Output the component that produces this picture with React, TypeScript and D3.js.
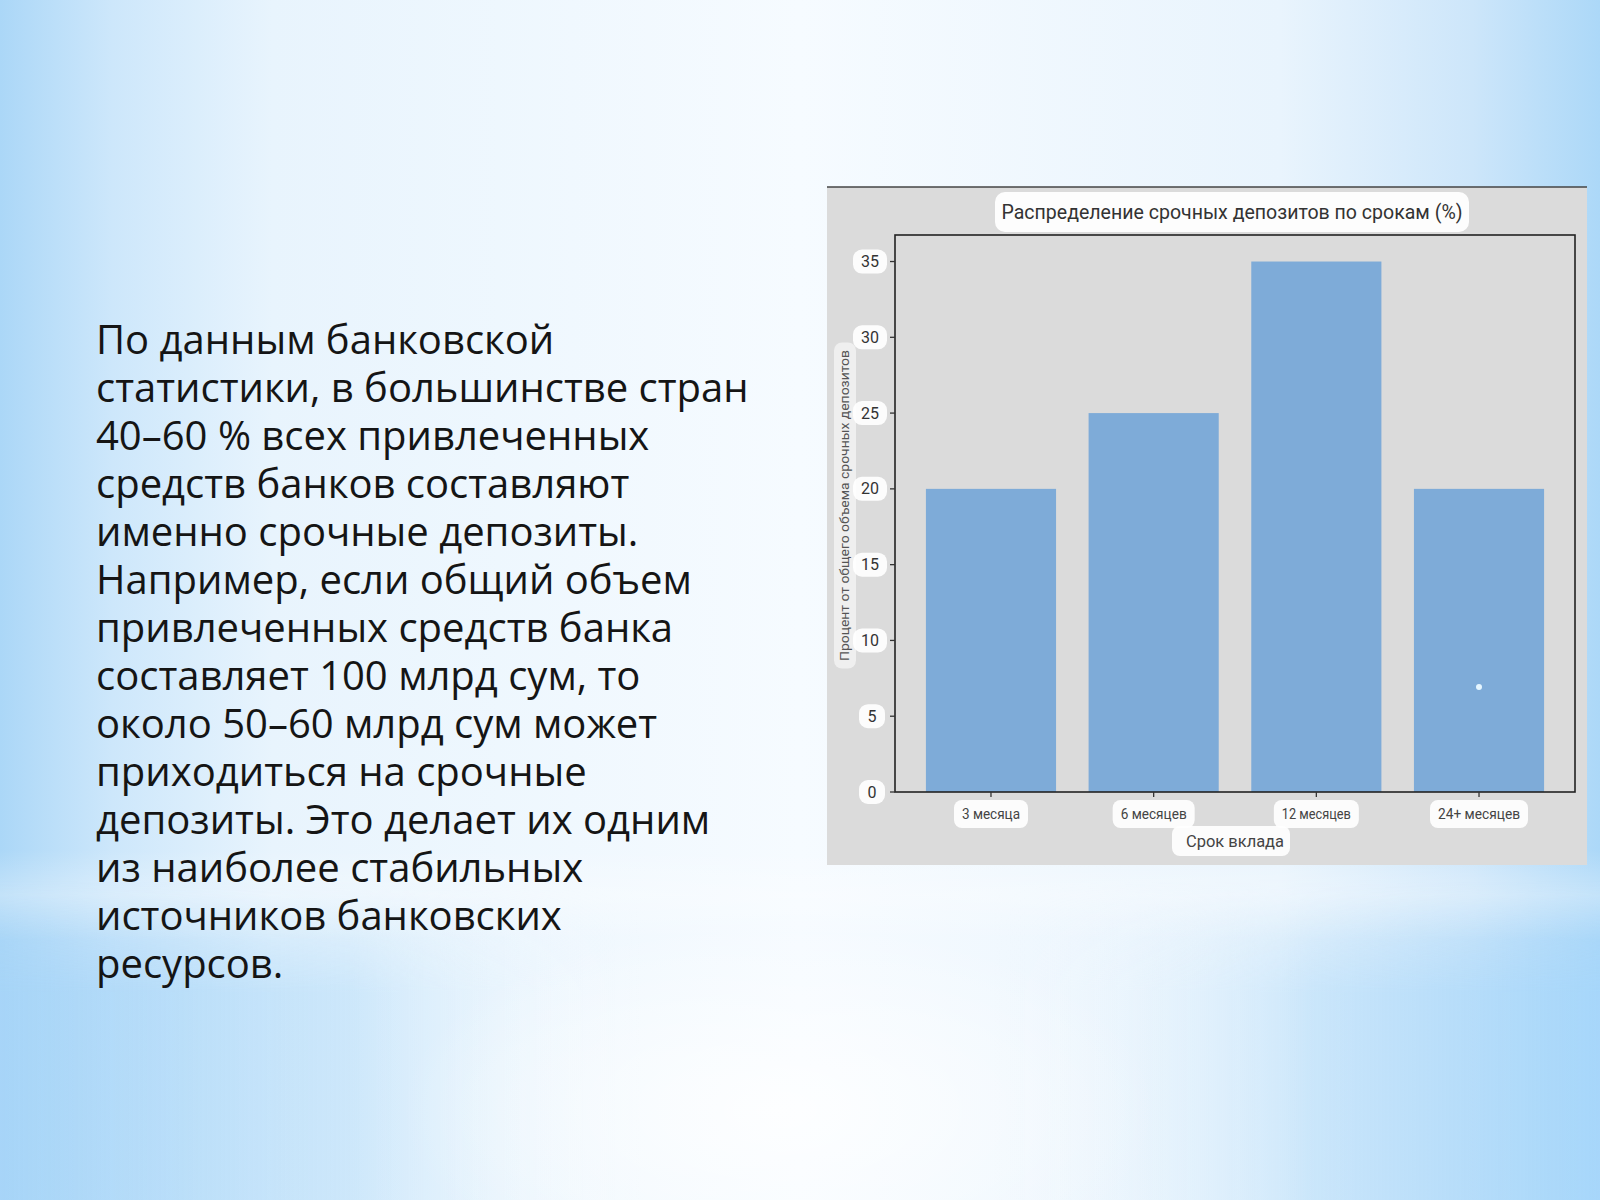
import { useEffect, useRef } from "react";
import * as d3 from "d3";

const WIDTH = 1600;
const HEIGHT = 1200;

// chart data
const categories = ["3 месяца", "6 месяцев", "12 месяцев", "24+ месяцев"];
const shares = [20, 25, 35, 20];
const yTicks = [0, 5, 10, 15, 20, 25, 30, 35];

const chartTitle = "Распределение срочных депозитов по срокам (%)";
const xAxisLabel = "Срок вклада";
const yAxisLabel = "Процент от общего объема срочных депозитов";

// left text block, one entry per line
const paragraphLines = [
  "По данным банковской",
  "статистики, в большинстве стран",
  "40–60 % всех привлеченных",
  "средств банков составляют",
  "именно срочные депозиты.",
  "Например, если общий объем",
  "привлеченных средств банка",
  "составляет 100 млрд сум, то",
  "около 50–60 млрд сум может",
  "приходиться на срочные",
  "депозиты. Это делает их одним",
  "из наиболее стабильных",
  "источников банковских",
  "ресурсов.",
];

// panel + plot area (in page pixels)
const PANEL = { x: 827, y: 187, w: 760, h: 678 };
const PLOT = { left: 895, top: 235, right: 1575, bottom: 792 };

const BAR_COLOR = "#7eabd8";
const LABEL_FONT = "Roboto, 'Noto Sans', sans-serif";

export default function App() {
  const axesRef = useRef<SVGGElement>(null);

  const xScale = d3
    .scaleBand<string>()
    .domain(categories)
    .range([PLOT.left, PLOT.right])
    .paddingInner(0.2)
    .paddingOuter(0.19);

  // matplotlib style 5% headroom above the top bar
  const yScale = d3
    .scaleLinear()
    .domain([0, d3.max(shares)! * 1.05])
    .range([PLOT.bottom, PLOT.top]);

  useEffect(() => {
    const g = d3.select(axesRef.current);
    g.selectAll("*").remove();

    // y ticks with white label pads
    const yAxis = g.append("g").attr("transform", `translate(${PLOT.left},0)`);
    const yTick = yAxis
      .selectAll("g.ytick")
      .data(yTicks)
      .enter()
      .append("g")
      .attr("class", "ytick")
      .attr("transform", (d) => `translate(0,${yScale(d)})`);
    yTick
      .append("line")
      .attr("x1", -5)
      .attr("x2", 0)
      .attr("stroke", "#333")
      .attr("stroke-width", 1.3);
    yTick
      .append("rect")
      .attr("x", (d) => (d >= 10 ? -42 : -36))
      .attr("y", -12)
      .attr("width", (d) => (d >= 10 ? 34 : 26))
      .attr("height", 24)
      .attr("rx", 9)
      .attr("fill", "#fff")
      .attr("opacity", 0.92);
    yTick
      .append("text")
      .attr("x", (d) => (d >= 10 ? -25 : -23))
      .attr("dy", "0.35em")
      .attr("text-anchor", "middle")
      .attr("font-family", LABEL_FONT)
      .attr("font-size", 16)
      .attr("fill", "#333")
      .text((d) => d);

    // x ticks
    const labelWidths = [58, 66, 69, 82];
    const xTick = g
      .append("g")
      .selectAll("g.xtick")
      .data(categories)
      .enter()
      .append("g")
      .attr("class", "xtick")
      .attr(
        "transform",
        (d) => `translate(${xScale(d)! + xScale.bandwidth() / 2},${PLOT.bottom})`
      );
    xTick
      .append("line")
      .attr("y1", 0)
      .attr("y2", 5)
      .attr("stroke", "#333")
      .attr("stroke-width", 1.3);
    xTick
      .append("rect")
      .attr("x", (_, i) => -labelWidths[i] / 2 - 8)
      .attr("y", 8)
      .attr("width", (_, i) => labelWidths[i] + 16)
      .attr("height", 28)
      .attr("rx", 8)
      .attr("fill", "#fff")
      .attr("opacity", 0.92);
    xTick
      .append("text")
      .attr("y", 22)
      .attr("dy", "0.35em")
      .attr("text-anchor", "middle")
      .attr("font-family", LABEL_FONT)
      .attr("font-size", 14)
      .attr("fill", "#444")
      .attr("textLength", (_, i) => labelWidths[i])
      .attr("lengthAdjust", "spacingAndGlyphs")
      .text((d) => d);
  }, []);

  const cx = (PLOT.left + PLOT.right) / 2;
  const yMid = (PLOT.top + PLOT.bottom) / 2;

  return (
    <div style={{ position: "absolute", left: 0, top: 0 }}>
      <svg width={WIDTH} height={HEIGHT} style={{ display: "block" }}>
        <defs>
          <linearGradient id="bgH" x1="0" x2="1" y1="0" y2="0">
            <stop offset="0%" stopColor="#abd7f7" />
            <stop offset="7%" stopColor="#cde7fb" />
            <stop offset="17%" stopColor="#e8f4fd" />
            <stop offset="50%" stopColor="#f6fbff" />
            <stop offset="80%" stopColor="#e9f4fd" />
            <stop offset="92%" stopColor="#cde6fa" />
            <stop offset="100%" stopColor="#acd8f8" />
          </linearGradient>
          <linearGradient id="lowerSides" x1="0" x2="1" y1="0" y2="0">
            <stop offset="0%" stopColor="#a6d4f7" stopOpacity="0.9" />
            <stop offset="22%" stopColor="#b9def9" stopOpacity="0.6" />
            <stop offset="40%" stopColor="#ffffff" stopOpacity="0" />
            <stop offset="62%" stopColor="#ffffff" stopOpacity="0" />
            <stop offset="82%" stopColor="#b9def9" stopOpacity="0.6" />
            <stop offset="100%" stopColor="#a6d6fa" stopOpacity="0.9" />
          </linearGradient>
          <linearGradient id="lowerFade" x1="0" x2="0" y1="0" y2="1">
            <stop offset="0%" stopColor="#fff" stopOpacity="0" />
            <stop offset="35%" stopColor="#fff" stopOpacity="1" />
            <stop offset="100%" stopColor="#fff" stopOpacity="1" />
          </linearGradient>
          <mask id="lowerMask">
            <rect x={0} y={880} width={WIDTH} height={320} fill="url(#lowerFade)" />
          </mask>
          <radialGradient id="glowBottom" cx="0.5" cy="0.5" r="0.5">
            <stop offset="0%" stopColor="#ffffff" stopOpacity="0.8" />
            <stop offset="100%" stopColor="#ffffff" stopOpacity="0" />
          </radialGradient>
          <linearGradient id="band" x1="0" x2="0" y1="0" y2="1">
            <stop offset="0%" stopColor="#ffffff" stopOpacity="0" />
            <stop offset="50%" stopColor="#ffffff" stopOpacity="0.3" />
            <stop offset="100%" stopColor="#ffffff" stopOpacity="0" />
          </linearGradient>
        </defs>

        {/* background */}
        <rect width={WIDTH} height={HEIGHT} fill="url(#bgH)" />
        <rect
          x={0}
          y={880}
          width={WIDTH}
          height={320}
          fill="url(#lowerSides)"
          mask="url(#lowerMask)"
        />
        <rect x={0} y={850} width={WIDTH} height={90} fill="url(#band)" />
        <ellipse cx={780} cy={1110} rx={380} ry={190} fill="url(#glowBottom)" />

        {/* paragraph */}
        <text
          fontFamily="'Open Sans', 'Noto Sans', sans-serif"
          fontSize={40}
          fill="#151515"
        >
          {paragraphLines.map((line, i) => (
            <tspan key={i} x={96} y={354 + i * 48}>
              {line}
            </tspan>
          ))}
        </text>

        {/* chart panel */}
        <rect x={PANEL.x} y={PANEL.y} width={PANEL.w} height={PANEL.h} fill="#dbdbdb" />
        <line
          x1={PANEL.x}
          x2={PANEL.x + PANEL.w}
          y1={PANEL.y}
          y2={PANEL.y}
          stroke="#444"
          strokeWidth={1.5}
        />

        {/* title */}
        <rect x={995} y={192} width={474} height={40} rx={10} fill="#fff" opacity={0.95} />
        <text
          x={1232}
          y={212}
          dy="0.35em"
          textAnchor="middle"
          fontFamily={LABEL_FONT}
          fontSize={21}
          fill="#333"
          textLength={461}
          lengthAdjust="spacingAndGlyphs"
        >
          {chartTitle}
        </text>

        {/* bars */}
        {categories.map((c, i) => (
          <rect
            key={c}
            x={xScale(c)}
            y={yScale(shares[i])}
            width={xScale.bandwidth()}
            height={yScale(0) - yScale(shares[i])}
            fill={BAR_COLOR}
          />
        ))}
        <circle cx={1479} cy={687} r={3} fill="#e6f6ff" />

        {/* frame */}
        <rect
          x={PLOT.left}
          y={PLOT.top}
          width={PLOT.right - PLOT.left}
          height={PLOT.bottom - PLOT.top}
          fill="none"
          stroke="#222"
          strokeWidth={1.6}
        />

        <g ref={axesRef} />

        {/* axis labels */}
        <rect x={1172} y={826} width={118} height={30} rx={8} fill="#fff" opacity={0.92} />
        <text
          x={cx}
          y={841}
          dy="0.35em"
          textAnchor="middle"
          fontFamily={LABEL_FONT}
          fontSize={17}
          fill="#444"
          textLength={98}
          lengthAdjust="spacingAndGlyphs"
        >
          {xAxisLabel}
        </text>

        <g transform={`translate(845,${yMid - 8}) rotate(-90)`}>
          <rect x={-163} y={-11} width={326} height={22} rx={8} fill="#fff" opacity={0.55} />
          <text
            dy="0.35em"
            textAnchor="middle"
            fontFamily={LABEL_FONT}
            fontSize={12.5}
            fill="#555"
            textLength={311}
            lengthAdjust="spacingAndGlyphs"
          >
            {yAxisLabel}
          </text>
        </g>
      </svg>
    </div>
  );
}
